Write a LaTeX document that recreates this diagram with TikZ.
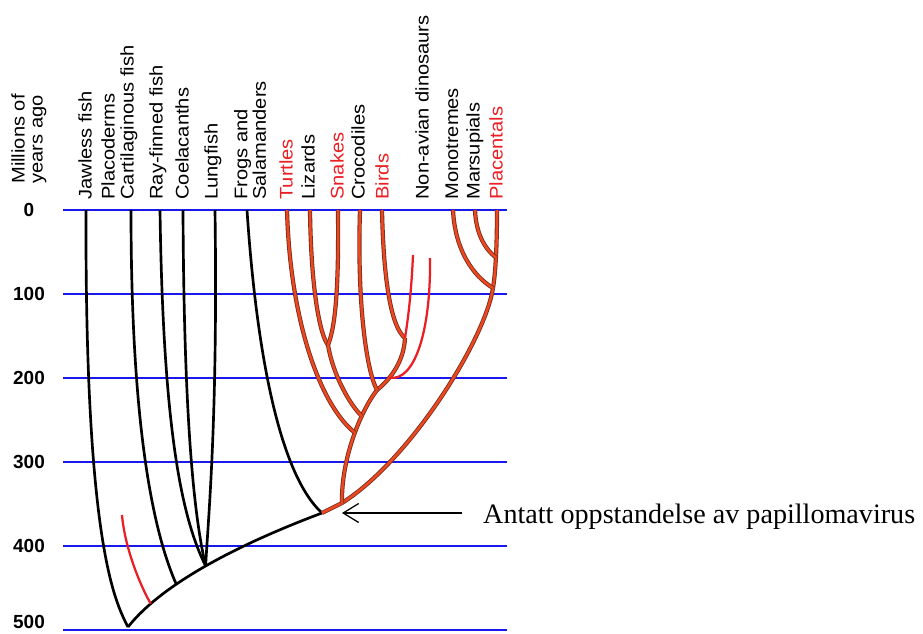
\documentclass[tikz,border=0pt]{standalone}
\usepackage{fontspec}
\setmainfont{Liberation Sans}
\newfontfamily\notefont{Liberation Serif}
\usetikzlibrary{arrows.meta}

\definecolor{timeblue}{RGB}{25,25,235}
\definecolor{amcore}{RGB}{238,70,30}
\definecolor{amedge}{RGB}{115,48,30}
\definecolor{tipred}{RGB}{235,30,35}

\begin{document}
\begin{tikzpicture}[x=0.025cm, y=-0.025cm,
  timeline/.style={timeblue, line width=1.4pt},
  fish/.style={line width=1.9pt},
  amniote/.style={amcore, line width=1.8pt, preaction={draw=amedge, line width=3pt}},
  extinct/.style={tipred, line width=1.6pt},
  taxon/.style={rotate=90, xscale=1.1, anchor=west, inner sep=0pt, font=\fontsize{13}{11}\selectfont},
  axislab/.style={inner sep=0pt, font=\fontsize{13.5}{13.5}\selectfont\bfseries}]
\useasboundingbox (0,0) rectangle (923,633);

% time axis
\foreach \t/\lab in {0/0,1/100,2/200,3/300,4/400}{
  \node[axislab] (my\t) at (29,{210+84*\t}) {\lab};
  \draw[timeline] (63,{210+84*\t}) -- (507,{210+84*\t});
}
\node[axislab] (my5) at (29,622) {500};
\draw[timeline] (63,630) -- (507,630);

% labels
\node[taxon, align=left, font=\fontsize{13}{12.8}\selectfont] (myears) at (29,184) {Millions of\\years ago};
\node[taxon] (jawless) at (85,200) {Jawless fish};
\node[taxon] (placo) at (108,200) {Placoderms};
\node[taxon] (cartil) at (129,200) {Cartilaginous fish};
\node[taxon] (rayfin) at (158,200) {Ray-finned fish};
\node[taxon] (coela) at (182,200) {Coelacanths};
\node[taxon] (lungf) at (213,200) {Lungfish};
\node[taxon, align=left, font=\fontsize{13}{10.6}\selectfont] (frogs) at (250,200) {Frogs and\\Salamanders};
\node[taxon, text=tipred] (turtles) at (286,200) {Turtles};
\node[taxon] (lizards) at (308,200) {Lizards};
\node[taxon, text=tipred] (snakes) at (337,200) {Snakes};
\node[taxon] (crocs) at (358,200) {Crocodiles};
\node[taxon, text=tipred] (birds) at (382,200) {Birds};
\node[taxon] (dinos) at (422,200) {Non-avian dinosaurs};
\node[taxon] (monot) at (452,200) {Monotremes};
\node[taxon] (marsu) at (475,200) {Marsupials};
\node[taxon, text=tipred] (placen) at (496,200) {Placentals};

% tips and branch points
\coordinate (root) at (128,627);
\coordinate (jawT) at (86,210);
\coordinate (carT) at (131,210);
\coordinate (rayT) at (160,210);
\coordinate (coeT) at (183,210);
\coordinate (lunT) at (215,210);
\coordinate (froT) at (247,210);
\coordinate (turT) at (287,210);
\coordinate (lizT) at (310,210);
\coordinate (snaT) at (338,210);
\coordinate (croT) at (360,210);
\coordinate (birT) at (382,210);
\coordinate (monT) at (453,210);
\coordinate (marT) at (475,210);
\coordinate (plaT) at (497,210);
\coordinate (placoT) at (122,515);
\coordinate (dinoA) at (413,255);
\coordinate (dinoB) at (430,258);
\coordinate (tet) at (322,513);
\coordinate (amn) at (342,503);
\coordinate (mam) at (493,288);
\coordinate (ar) at (377,390);
\coordinate (bd) at (405,338);
\coordinate (ls) at (328,345);

% fish and frogs
\draw[fish] (root) .. controls (165,580) and (250,540) .. (tet)
  coordinate[pos=0.17] (pl) coordinate[pos=0.32] (ch) coordinate[pos=0.47] (os);
\draw[fish] (jawT) .. controls (85,540) and (114,600) .. (root);
\draw[extinct] (placoT) .. controls (125,550) and (142,589) .. (pl);
\draw[fish] (carT) .. controls (131,400) and (148,520) .. (ch);
\draw[fish] (rayT) .. controls (163,420) and (180,515) .. (os);
\draw[fish] (coeT) .. controls (184,430) and (195,520) .. (os);
\draw[fish] (lunT) .. controls (218,420) and (208,520) .. (os);
\draw[fish] (froT) .. controls (255,330) and (275,470) .. (tet);

% amniotes
\draw[amniote] (tet) -- (amn);
\draw[amniote] (amn) .. controls (410,460) and (485,340) .. (mam);
\draw[amniote] (mam) .. controls (496,270) and (497,240) .. (plaT) coordinate[pos=0.45] (mars);
\draw[amniote] (monT) .. controls (455,250) and (473,276) .. (mam);
\draw[amniote] (marT) .. controls (476,235) and (486,250) .. (mars);
\draw[amniote] (amn) .. controls (341,460) and (360,412) .. (ar)
  coordinate[pos=0.55] (tu) coordinate[pos=0.7] (sq);
\draw[amniote] (ar) .. controls (392,378) and (404,360) .. (bd) coordinate[pos=0.3] (dn);
\draw[amniote] (turT) .. controls (290,320) and (320,405) .. (tu);
\draw[amniote] (lizT) .. controls (311,290) and (320,335) .. (ls);
\draw[amniote] (snaT) .. controls (339,300) and (334,330) .. (ls);
\draw[amniote] (ls) .. controls (333,375) and (350,405) .. (sq);
\draw[amniote] (croT) .. controls (357,300) and (366,370) .. (ar);
\draw[amniote] (birT) .. controls (384,300) and (395,330) .. (bd);
\draw[extinct] (dinoA) .. controls (411,300) and (407,325) .. (bd);
\draw[extinct] (dinoB) .. controls (431,330) and (415,382) .. (dn);

% papillomavirus
\coordinate (pv) at (342,513);
\node[anchor=base west, inner xsep=14.9pt, inner ysep=0pt, font=\notefont\fontsize{20}{24}\selectfont] (pvtext) at (462,523) {Antatt oppstandelse av papillomavirus};
\draw[-{Straight Barb[length=11pt,width=13.5pt]}, line width=0.9pt] (pvtext.west |- pv) -- (pv);
\end{tikzpicture}
\end{document}
